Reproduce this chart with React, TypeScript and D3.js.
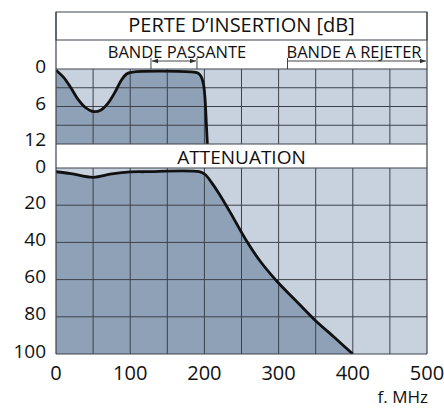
import React from "react";
import * as d3 from "d3";

const freqTicks = [0, 100, 200, 300, 400, 500];
const insTicks = [0, 6, 12];
const attTicks = [0, 20, 40, 60, 80, 100];
const insGrid = [3, 6, 9];
const attGrid = [20, 40, 60, 80];
const gridFreqs = [50, 100, 150, 200, 250, 300, 350, 400, 450];

// insertion loss (MHz, dB)
const insFreq = [0, 10, 20, 30, 40, 50, 60, 70, 80, 88, 95, 103, 185, 192, 196, 199, 201, 202.5, 204];
const insLoss = [0.2, 1.3, 3.0, 4.9, 6.2, 6.8, 6.6, 5.5, 3.6, 1.8, 0.8, 0.5, 0.5, 0.7, 1.3, 2.6, 5, 8.5, 12];

// attenuation (MHz, dB)
const attFreq = [0, 20, 50, 75, 100, 120, 193, 201, 210, 220, 235, 255, 275, 298, 320, 347, 375, 400];
const attVal = [2, 3, 5, 3.2, 2.1, 2, 2, 3.5, 8, 14, 24, 38, 50, 61, 70, 81, 91, 100];

const passBand = [128, 190];
const rejectBand = [312, 500];

const FONT = "'Open Sans', sans-serif";
const DARK = "#8ea1b7";
const LIGHT = "#c8d2de";
const GRID = "#3d424a";

export default function App() {
  const x = d3.scaleLinear().domain([0, 500]).range([56, 427]);
  const yIns = d3.scaleLinear().domain([0, 12]).range([69, 144]);
  const yAtt = d3.scaleLinear().domain([0, 100]).range([168, 354]);

  const insPts: [number, number][] = insFreq.map((f, i) => [f, insLoss[i]]);
  const attPts: [number, number][] = attFreq.map((f, i) => [f, attVal[i]]);
  const curve = d3.curveCatmullRom.alpha(0.5);

  const insLine = d3.line<[number, number]>().x(d => x(d[0])).y(d => yIns(d[1])).curve(curve);
  const insArea = d3.area<[number, number]>().x(d => x(d[0])).y0(yIns(12)).y1(d => yIns(d[1])).curve(curve);
  const attLine = d3.line<[number, number]>().x(d => x(d[0])).y(d => yAtt(d[1])).curve(curve);
  const attArea = d3.area<[number, number]>().x(d => x(d[0])).y0(yAtt(100)).y1(d => yAtt(d[1])).curve(curve);

  const x0 = x(0), x1 = x(500);
  const arrowY = 61;

  const insLabelY = (v: number) => yIns(v) - (v === 12 ? 5 : 3);
  const attLabelY = (v: number) => yAtt(v) - (v === 0 ? 2 : 3);

  return (
    <svg width={444} height={408} style={{ position: "absolute", left: 0, top: 0 }} fontFamily={FONT}>
      <defs>
        <marker id="ah" viewBox="0 0 8 6" refX="8" refY="3" markerWidth="6" markerHeight="5" orient="auto-start-reverse">
          <path d="M0,0 L8,3 L0,6 z" fill="#333" />
        </marker>
        <clipPath id="cpI"><rect x={x0} y={yIns(0)} width={x1 - x0} height={yIns(12) - yIns(0)} /></clipPath>
        <clipPath id="cpA"><rect x={x0} y={yAtt(0)} width={x1 - x0} height={yAtt(100) - yAtt(0)} /></clipPath>
      </defs>
      <rect width={444} height={408} fill="#fff" />

      {/* header boxes */}
      <rect x={x0} y={12} width={x1 - x0} height={28} fill="#fff" stroke={GRID} strokeWidth={1} />
      <text x={(x0 + x1) / 2} y={32} textAnchor="middle" fontSize={20} fill="#111">PERTE D’INSERTION [dB]</text>
      <text x={177} y={58} textAnchor="middle" fontSize={16.5} fill="#111">BANDE PASSANTE</text>
      <text x={354} y={58} textAnchor="middle" fontSize={16.5} fill="#111">BANDE A REJETER</text>

      {/* band arrows */}
      <line x1={x(passBand[0])} x2={x(passBand[0])} y1={58} y2={69} stroke="#444" strokeWidth={1} />
      <line x1={x(passBand[1])} x2={x(passBand[1])} y1={58} y2={69} stroke="#444" strokeWidth={1} />
      <line x1={x(passBand[0]) + 1} x2={x(passBand[1]) - 1} y1={arrowY} y2={arrowY} stroke="#444" strokeWidth={1}
        markerStart="url(#ah)" markerEnd="url(#ah)" />
      <line x1={x(rejectBand[0])} x2={x(rejectBand[0])} y1={58} y2={69} stroke="#444" strokeWidth={1} />
      <line x1={x(rejectBand[0])} x2={x(rejectBand[1]) - 1} y1={arrowY} y2={arrowY} stroke="#444" strokeWidth={1}
        markerEnd="url(#ah)" />

      {/* insertion panel */}
      <rect x={x0} y={yIns(0)} width={x1 - x0} height={yIns(12) - yIns(0)} fill={LIGHT} />
      <path d={insArea(insPts) || ""} fill={DARK} clipPath="url(#cpI)" />
      {insGrid.map(v => (
        <line key={"ig" + v} x1={x0} x2={x1} y1={yIns(v)} y2={yIns(v)} stroke={GRID} strokeWidth={1} />
      ))}
      {gridFreqs.map(f => (
        <line key={"iv" + f} x1={x(f)} x2={x(f)} y1={yIns(0)} y2={yIns(12)} stroke={GRID} strokeWidth={1} />
      ))}
      <path d={insLine(insPts) || ""} fill="none" stroke="#111" strokeWidth={2.8} clipPath="url(#cpI)" />

      {/* attenuation header */}
      <text x={(x0 + x1) / 2} y={164} textAnchor="middle" fontSize={19} fill="#111">ATTENUATION</text>

      {/* attenuation panel */}
      <rect x={x0} y={yAtt(0)} width={x1 - x0} height={yAtt(100) - yAtt(0)} fill={LIGHT} />
      <path d={attArea(attPts) || ""} fill={DARK} clipPath="url(#cpA)" />
      {attGrid.map(v => (
        <line key={"ag" + v} x1={x0} x2={x1} y1={yAtt(v)} y2={yAtt(v)} stroke={GRID} strokeWidth={1} />
      ))}
      {gridFreqs.map(f => (
        <line key={"av" + f} x1={x(f)} x2={x(f)} y1={yAtt(0)} y2={yAtt(100)} stroke={GRID} strokeWidth={1} />
      ))}
      <path d={attLine(attPts) || ""} fill="none" stroke="#111" strokeWidth={2.8} clipPath="url(#cpA)" />

      {/* frame */}
      <line x1={x0} x2={x0} y1={12} y2={yAtt(100)} stroke={GRID} strokeWidth={1.2} />
      <line x1={x1} x2={x1} y1={12} y2={yAtt(100)} stroke={GRID} strokeWidth={1.2} />
      <line x1={x0} x2={x1} y1={yIns(0)} y2={yIns(0)} stroke={GRID} strokeWidth={1} />
      <line x1={x0} x2={x1} y1={yIns(12)} y2={yIns(12)} stroke={GRID} strokeWidth={1} />
      <line x1={x0} x2={x1} y1={yAtt(0)} y2={yAtt(0)} stroke={GRID} strokeWidth={1} />
      <line x1={x0} x2={x1} y1={yAtt(100)} y2={yAtt(100)} stroke={GRID} strokeWidth={1.2} />

      {/* y labels */}
      {insTicks.map(v => (
        <text key={"yl" + v} x={46} y={insLabelY(v)} dy="0.35em" textAnchor="end" fontSize={19} fill="#111">{v}</text>
      ))}
      {attTicks.map(v => (
        <text key={"al" + v} x={46} y={attLabelY(v)} dy="0.35em" textAnchor="end" fontSize={19} fill="#111">{v}</text>
      ))}
      {freqTicks.map(f => (
        <text key={"xl" + f} x={x(f)} y={373} dy="0.35em" textAnchor="middle" fontSize={20} fill="#111">{f}</text>
      ))}
      <text x={428} y={397} dy="0.35em" textAnchor="end" fontSize={17} fill="#111">f. MHz</text>
    </svg>
  );
}
